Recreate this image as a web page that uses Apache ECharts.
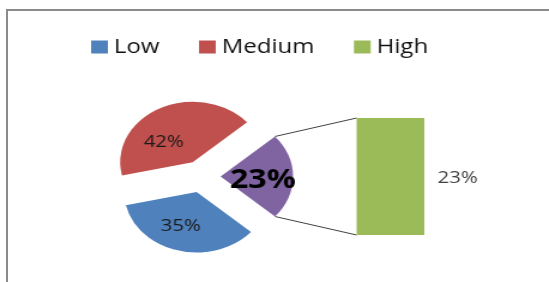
<!DOCTYPE html>
<html>
<head>
<meta charset="utf-8">
<script src="https://cdn.jsdelivr.net/npm/echarts@6/dist/echarts.min.js"></script>
<style>
  html, body { margin: 0; padding: 0; background: #fff; overflow: hidden; }
  #frame {
    position: absolute; left: 6px; top: 9px; width: 600px; height: 300px;
    border-left: 2px solid #8a8a8a; border-top: 2px solid #8a8a8a;
  }
  #chart {
    position: absolute; left: 0; top: 0; width: 458px; height: 282px;
    transform-origin: 0 0;
  }
</style>
</head>
<body>
<div id="frame"></div>
<div id="chart"></div>
<script>
// data
const legendNames = ['Low', 'Medium', 'High']
const pieNames = ['Other', 'Low', 'Medium']
const pieValues = [23, 35, 42]
const barNames = ['High']
const barValues = [23]

// the original picture is stretched sideways, so draw narrow and stretch
const W = 458
const SCALE = 549 / W
const chartEl = document.getElementById('chart')
chartEl.style.transform = 'scaleX(' + SCALE + ')'

const pieColors = ['#8064A2', '#4F81BD', '#C0504D']
const barColor = '#9BBB59'
const PIE_CENTER = [168, 176.5]
const PIE_R = 60.5
const EXPLODE = 16

const total = pieValues.reduce((a, b) => a + b, 0)
const halfAngle = 180 * pieValues[0] / total

const pieLabels = [
  { fontSize: 27, fontWeight: 'bold', color: '#000' },
  {},
  {},
]
// nudges so the labels sit where the original puts them
const labelShift = [[2, 4], [-5, 2], [-9, 10]]

const chart = echarts.init(chartEl)

const option = {
  animation: false,
  textStyle: { fontFamily: 'Open Sans' },
  legend: {
    data: legendNames,
    left: 71,
    top: 32,
    icon: 'rect',
    itemWidth: 14,
    itemHeight: 13,
    itemGap: 33,
    selectedMode: false,
    textStyle: { fontSize: 20, color: '#111', fontFamily: 'Open Sans' },
  },
  grid: { left: 297.5, top: 118, width: 56.5, height: 117 },
  xAxis: { type: 'category', data: barNames, show: false },
  yAxis: { type: 'value', min: 0, max: barValues[0], show: false },
  series: [
    {
      type: 'pie',
      center: PIE_CENTER,
      radius: PIE_R,
      startAngle: halfAngle,
      clockwise: true,
      selectedMode: 'multiple',
      selectedOffset: EXPLODE,
      labelLine: { show: false },
      emphasis: { disabled: true },
      label: {
        position: 'inside',
        formatter: '{d}%',
        fontSize: 17,
        color: '#1a1a1a',
        fontFamily: 'Open Sans',
      },
      labelLayout: (p) => ({ dx: labelShift[p.dataIndex][0], dy: labelShift[p.dataIndex][1] }),
      data: pieNames.map((n, i) => ({
        name: n,
        value: pieValues[i],
        selected: true,
        itemStyle: { color: pieColors[i] },
        label: pieLabels[i],
      })),
    },
    {
      type: 'bar',
      name: 'High',
      data: barValues,
      barWidth: '100%',
      itemStyle: { color: barColor },
      emphasis: { disabled: true },
      label: {
        show: true,
        position: 'right',
        distance: 11,
        offset: [0, 2],
        formatter: '{c}%',
        fontSize: 17,
        color: '#404040',
        fontFamily: 'Open Sans',
      },
    },
  ],
}

chart.setOption(option)

// connector lines from the "other" slice corners to the bar corners
const rad = halfAngle * Math.PI / 180
const ox = PIE_CENTER[0] + EXPLODE
const topCorner = [ox + PIE_R * Math.cos(rad), PIE_CENTER[1] - PIE_R * Math.sin(rad)]
const botCorner = [ox + PIE_R * Math.cos(rad), PIE_CENTER[1] + PIE_R * Math.sin(rad)]
const barTop = chart.convertToPixel({ yAxisIndex: 0 }, barValues[0])
const barBot = chart.convertToPixel({ yAxisIndex: 0 }, 0)
const barLeft = option.grid.left

chart.setOption({
  graphic: [
    {
      type: 'line',
      shape: { x1: topCorner[0], y1: topCorner[1], x2: barLeft, y2: barTop },
      style: { stroke: '#404040', lineWidth: 1 },
    },
    {
      type: 'line',
      shape: { x1: botCorner[0], y1: botCorner[1], x2: barLeft, y2: barBot },
      style: { stroke: '#404040', lineWidth: 1 },
    },
  ],
})
</script>
</body>
</html>
